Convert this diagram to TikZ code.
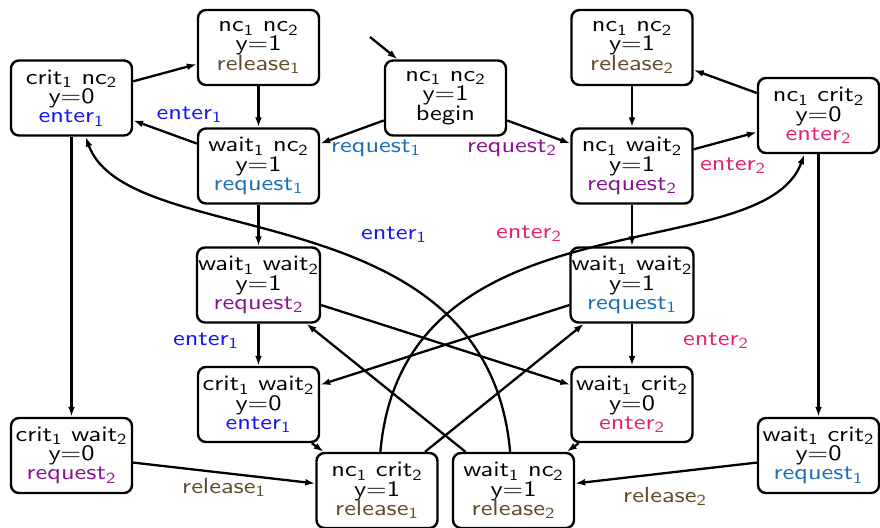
\documentclass[tikz,border=0pt]{standalone}
\usepackage{fontspec}
\setsansfont{lmsans10-regular.otf}[FakeStretch=1.2]
\usetikzlibrary{arrows.meta}
\definecolor{crel}{RGB}{95,75,40}
\definecolor{cenA}{RGB}{20,20,245}
\definecolor{creqA}{RGB}{30,110,180}
\definecolor{creqB}{RGB}{135,20,140}
\definecolor{cenB}{RGB}{225,35,110}
\newcommand{\sbs}[1]{\textsubscript{#1}}
\newcommand{\txtfont}{\sffamily\fontsize{11}{9.6}\selectfont\lineskiplimit=-10pt}
\begin{document}
\begin{tikzpicture}[x=0.5pt,y=-0.5pt,
  state/.style={draw, line width=1.2pt, rounded corners=4pt, minimum width=60.5pt,
    minimum height=37.5pt, inner sep=0.5pt, align=center, font=\txtfont},
  lbl/.style={inner sep=0pt, font=\txtfont},
  edge/.style={-{Latex[length=5pt,width=3.4pt]}, line width=1.15pt}]
\useasboundingbox (0,0) rectangle (880,527);
% states
\node[state] (A) at (258.5,47.5) {nc\sbs1 nc\sbs2\\y=1\\\textcolor{crel}{release\sbs1}};
\node[state] (B) at (71.5,98) {crit\sbs1 nc\sbs2\\y=0\\\textcolor{cenA}{enter\sbs1}};
\node[state] (C) at (445.5,98) {nc\sbs1 nc\sbs2\\y=1\\begin};
\node[state] (D) at (632,47.5) {nc\sbs1 nc\sbs2\\y=1\\\textcolor{crel}{release\sbs2}};
\node[state] (E) at (818.5,115.5) {nc\sbs1 crit\sbs2\\y=0\\\textcolor{cenB}{enter\sbs2}};
\node[state] (F) at (258.5,166) {wait\sbs1 nc\sbs2\\y=1\\\textcolor{creqA}{request\sbs1}};
\node[state] (G) at (632,166) {nc\sbs1 wait\sbs2\\y=1\\\textcolor{creqB}{request\sbs2}};
\node[state] (H) at (258.5,285) {wait\sbs1 wait\sbs2\\y=1\\\textcolor{creqB}{request\sbs2}};
\node[state] (I) at (632,285) {wait\sbs1 wait\sbs2\\y=1\\\textcolor{creqA}{request\sbs1}};
\node[state] (J) at (258.5,404.5) {crit\sbs1 wait\sbs2\\y=0\\\textcolor{cenA}{enter\sbs1}};
\node[state] (K) at (632,404.5) {wait\sbs1 crit\sbs2\\y=0\\\textcolor{cenB}{enter\sbs2}};
\node[state] (L) at (71.5,455.5) {crit\sbs1 wait\sbs2\\y=0\\\textcolor{creqB}{request\sbs2}};
\node[state] (M) at (377,490.5) {nc\sbs1 crit\sbs2\\y=1\\\textcolor{crel}{release\sbs1}};
\node[state] (N) at (513.5,490.5) {wait\sbs1 nc\sbs2\\y=1\\\textcolor{crel}{release\sbs2}};
\node[state] (O) at (818.5,455.5) {wait\sbs1 crit\sbs2\\y=0\\\textcolor{creqA}{request\sbs1}};
% edges
\coordinate (init) at (370,37);
\draw[edge] (init) -- (C);
\draw[edge] (C) -- (F);
\draw[edge] (C) -- (G);
\draw[edge] (F) -- (B);
\draw[edge] (B) -- (A);
\draw[edge] (A) -- (F);
\draw[edge] (D) -- (G);
\draw[edge] (E) -- (D);
\draw[edge] (G) -- (E);
\draw[edge] (F) -- (H);
\draw[edge] (G) -- (I);
\draw[edge] (H) -- (J);
\draw[edge] (I) -- (K);
\draw[edge] (H) -- (K);
\draw[edge] (I) -- (J);
\draw[edge] (B) -- (L);
\draw[edge] (E) -- (O);
\draw[edge] (L) -- (M);
\draw[edge] (O) -- (N);
\draw[edge] (J) -- (M);
\draw[edge] (K) -- (N);
\draw[edge] (M) -- (I);
\draw[edge] (N) -- (H);
\draw[edge] (M) to[out=85,in=-110,out distance=132pt,in distance=62pt] (E);
\draw[edge] (N) to[out=95,in=-70,out distance=132pt,in distance=62pt] (B);
% labels
\node[lbl,text=cenA] (l1) at (189.5,115) {enter\sbs1};
\node[lbl,text=creqA] (l2) at (376,148) {request\sbs1};
\node[lbl,text=creqB] (l3) at (512,148) {request\sbs2};
\node[lbl,text=cenB] (l4) at (733,166) {enter\sbs2};
\node[lbl,text=cenA] (l5) at (394,235) {enter\sbs1};
\node[lbl,text=cenB] (l6) at (529,234) {enter\sbs2};
\node[lbl,text=cenA] (l7) at (206,341) {enter\sbs1};
\node[lbl,text=cenB] (l8) at (716,341) {enter\sbs2};
\node[lbl,text=crel] (l9) at (224,487) {release\sbs1};
\node[lbl,text=crel] (l10) at (665,496) {release\sbs2};
\end{tikzpicture}
\end{document}
